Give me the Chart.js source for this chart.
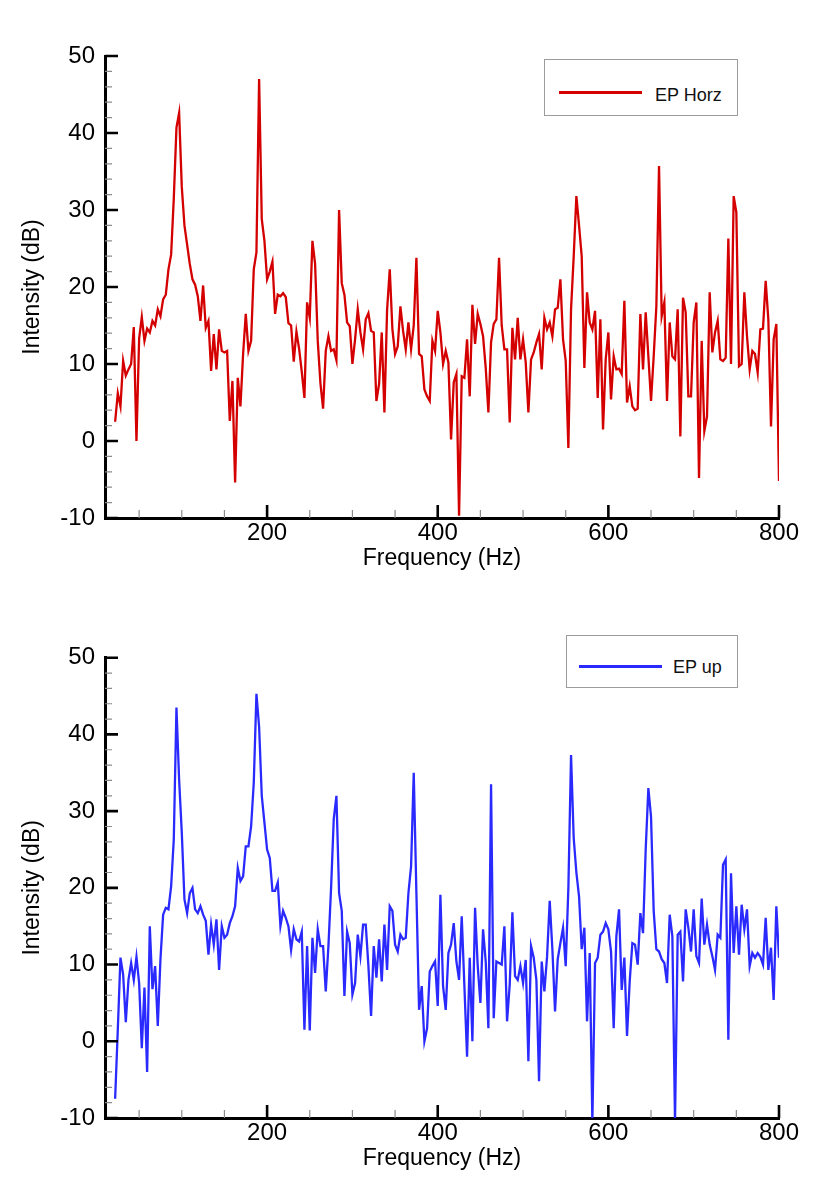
<!DOCTYPE html>
<html lang="en">
<head>
<meta charset="UTF-8">
<title>EP spectra</title>
<script src="https://cdn.jsdelivr.net/npm/chart.js"></script>
<style>
  body { margin: 0; background: #fff; font-family: "Liberation Sans", Arial, sans-serif; }
  .page { position: relative; width: 825px; height: 1185px; overflow: hidden; }
  .panel { position: absolute; left: 0; }
  .legend-box { position: absolute; border: 1.5px solid #9c9c9c; box-sizing: border-box; background: #fff; }
  .legend-line { position: absolute; height: 3px; }
  .legend-label { position: absolute; font-size: 18px; line-height: 20px; color: #111; white-space: nowrap; }
</style>
</head>
<body>
<div class="page">
  <canvas id="horzChart" class="panel" style="top:0" width="825" height="592"></canvas>
  <canvas id="upChart" class="panel" style="top:592px" width="825" height="593"></canvas>

  <div class="legend-box" style="left:544px; top:59px; width:194px; height:57px;"></div>
  <div class="legend-line" style="left:559px; top:90.5px; width:83px; background:#d40000;"></div>
  <div class="legend-label" style="left:655px; top:84.5px;">EP Horz</div>

  <div class="legend-box" style="left:566px; top:635px; width:172px; height:53px;"></div>
  <div class="legend-line" style="left:579px; top:664.5px; width:83px; background:#2a2aff;"></div>
  <div class="legend-label" style="left:673px; top:657px;">EP up</div>
</div>

<script>
// spectrum values (dB), one per frequency bin
const EP_HORZ = [
  2.5, 6.2, 4.5, 10.4, 8.5, 9.3, 10.0, 14.8, 0, 13.3,
  16.1, 13, 14.6, 14.1, 15.6, 15, 17.1, 16.2, 18.4, 19,
  22.3, 24.2, 31.5, 40.7, 42.6, 33, 28, 25.5, 23, 21,
  20.3, 18.8, 15.6, 20.2, 14.7, 15.6, 9.1, 13.9, 9.3, 14.5,
  11.7, 11.5, 11.7, 2.6, 7.8, -5.4, 8.2, 4.5, 11.3, 16.5,
  11.7, 13, 22.3, 24.5, 47, 28.8, 26, 21, 22, 23.3,
  16.5, 19, 18.8, 19.2, 18.7, 15.3, 15, 10.3, 14.2, 12,
  9, 5.6, 18, 16, 26, 23, 13, 7.5, 4.2, 11.7,
  13.6, 11.7, 11.9, 10.5, 30, 20.5, 19, 15.4, 14.9, 10,
  13.2, 17.1, 14.1, 11.9, 15.8, 16.6, 14.3, 14.1, 5.2, 7.4,
  14.1, 3.7, 17, 22.3, 14.5, 11.3, 12.3, 17.5, 14.3, 11.9,
  15.4, 11.9, 15, 23.8, 11.3, 11, 6.7, 5.8, 5.2, 13,
  11.7, 16.9, 14.1, 10, 11.7, 10.2, 0.2, 7.6, 8.7, -9.7,
  8.4, 8.2, 13.2, 5.8, 17.7, 12.6, 16.5, 15.2, 13.6, 9.5,
  3.7, 12.8, 15.2, 15.8, 23.8, 15, 11.9, 11.9, 2.4, 14.7,
  10.6, 16, 10.6, 13.2, 10.2, 3.7, 10.6, 11.5, 12.8, 13.9,
  9.3, 16, 14.5, 15.4, 13.6, 17.1, 17.3, 21, 13.2, 10.4,
  -0.9, 17.1, 24, 31.8, 28, 24, 9.5, 19.3, 15.4, 14.5,
  16.9, 5.6, 15.8, 1.5, 10.6, 14.1, 5.4, 11, 9.3, 9.4,
  8.7, 18.2, 5, 7.1, 4.5, 4, 4.2, 16.5, 9.3, 16.7,
  11, 5.2, 11, 17.5, 35.7, 16.2, 18, 5.2, 15.4, 11,
  10.6, 17.1, 0.6, 18.6, 16.7, 5.8, 5.8, 15.4, 18, -4.8,
  13, 1.3, 3.2, 19.3, 11.5, 14.1, 15.6, 10.6, 10.4, 10.8,
  26.3, 10, 31.8, 29.7, 9.7, 10, 19.3, 13.6, 9.3, 11.7,
  11.3, 8.9, 14.5, 14.6, 20.8, 15.8, 1.9, 13.2, 15.2, -5.2
];

const EP_UP = [
  -7.5, 1.5, 10.9, 8.7, 2.5, 8, 10.2, 8, 11, 7.6,
  -0.9, 7, -4, 15, 6.8, 9.8, 2, 10.7, 16.5, 17.4,
  17.2, 20.2, 26.3, 43.5, 34.1, 27.2, 18.5, 16.7, 19.3, 20,
  17.2, 16.7, 17.6, 16.5, 15.7, 11.3, 15.2, 12.6, 15.9, 9.3,
  15, 13.5, 13.9, 15.4, 16.3, 17.6, 22.6, 20.9, 21.5, 25.4,
  25.4, 28, 33.7, 45.3, 41, 32, 28.5, 25, 23.9, 19.6,
  19.6, 20.7, 15, 17, 16.1, 15, 11.9, 14.6, 13.3, 13,
  14.3, 1.5, 12.4, 1.4, 13.5, 8.9, 14.6, 12.4, 12.4, 6.5,
  12.4, 20, 29, 32, 19.3, 17, 5.9, 14.3, 12.8, 6.1,
  7.6, 13.9, 11.1, 15.2, 15.2, 9.8, 3.3, 12.4, 8.3, 13.3,
  7.8, 15.2, 9.3, 17.6, 17, 12.6, 11.7, 13.9, 13.3, 13.5,
  19.3, 22.8, 35, 19.3, 4.1, 7.2, 0, 1.7, 9.1, 9.8,
  10.4, 4.6, 19.1, 7.2, 4.1, 11.5, 12.6, 15.4, 10.4, 8,
  16.3, 7.2, -2, 10.9, 0, 17.4, 9.8, 5, 14.6, 10.4,
  1.7, 33.5, 3, 10.4, 10.2, 10, 15, 2.6, 7.4, 16.8,
  8.5, 8, 9.8, 7.6, 10.6, -2.6, 12.4, 10.9, 8, -5.2,
  10.4, 6.5, 11, 18.3, 12, 3.9, 10.7, 12.8, 14.8, 9.8,
  20, 37.3, 26.5, 22, 18.9, 12, 14.8, 2.6, 11.5, -10.5,
  10.2, 10.9, 13.9, 14.3, 15.4, 14.6, 11.7, 1.7, 13.7, 17.2,
  6.7, 10.9, 0.7, 7.8, 12.8, 12.6, 10, 16.7, 14.1, 25,
  33, 29.3, 17, 12, 11.7, 10.7, 10.2, 7.6, 16.5, 13.7,
  -10.5, 13.9, 14.3, 7.8, 17.2, 14.8, 11.7, 17.2, 11.1, 10.2,
  18.6, 12.6, 15.2, 12.6, 11.1, 9.3, 13.9, 13.5, 23, 23.7,
  0.2, 21.9, 11.5, 17.6, 11.3, 17.8, 14.6, 17.2, 9.8, 11.5,
  10.9, 11.5, 11, 10, 16.1, 9.3, 12.2, 5.4, 17.6, 10.9
];

// frequency bins of the spectrum (Hz)
const BIN_FIRST = 21.875;
const BIN_WIDTH = 3.125;
const FREQ = EP_HORZ.map((_, i) => BIN_FIRST + BIN_WIDTH * i);

const X_RANGE = [10, 800];
const Y_RANGE = [-10, 50];
const X_TICKS = [200, 400, 600, 800];
const Y_TICKS = [-10, 0, 10, 20, 30, 40, 50];
const X_MINOR = [50, 100, 150, 250, 300, 350, 450, 500, 550, 650, 700, 750];
const Y_MINOR = [-8, -6, -4, -2, 2, 4, 6, 8, 12, 14, 16, 18, 22, 24, 26, 28,
                 32, 34, 36, 38, 42, 44, 46, 48];

const FONT = '"Liberation Sans", Arial, sans-serif';

// tecplot style ticks pointing into the plot
const inwardTicks = {
  id: 'inwardTicks',
  afterDatasetsDraw(chart) {
    const { ctx, chartArea } = chart;
    const xs = chart.scales.x, ys = chart.scales.y;
    const left = chartArea.left, bottom = chartArea.bottom;
    ctx.save();
    ctx.strokeStyle = '#8c8c8c';
    ctx.lineWidth = 1.2;
    ctx.beginPath();
    X_MINOR.forEach(v => {
      const px = xs.getPixelForValue(v);
      ctx.moveTo(px, bottom);
      ctx.lineTo(px, bottom - 8);
    });
    Y_MINOR.forEach(v => {
      const py = ys.getPixelForValue(v);
      ctx.moveTo(left, py);
      ctx.lineTo(left + 7, py);
    });
    ctx.stroke();

    ctx.strokeStyle = '#000';
    ctx.lineWidth = 2.6;
    ctx.beginPath();
    X_TICKS.forEach(v => {
      const px = xs.getPixelForValue(v);
      ctx.moveTo(px, bottom);
      ctx.lineTo(px, bottom - 13);
    });
    Y_TICKS.forEach(v => {
      const py = ys.getPixelForValue(v);
      ctx.moveTo(left, py);
      ctx.lineTo(left + 13, py);
    });
    ctx.stroke();
    ctx.restore();
  }
};

function makeSpectrum(canvasId, values, color, pad) {
  const ctx = document.getElementById(canvasId).getContext('2d');
  return new Chart(ctx, {
    type: 'line',
    data: {
      datasets: [{
        data: FREQ.map((f, i) => ({ x: f, y: values[i] })),
        borderColor: color,
        borderWidth: 2.3,
        pointRadius: 0,
        tension: 0,
        fill: false
      }]
    },
    options: {
      responsive: false,
      animation: false,
      devicePixelRatio: 1,
      layout: { padding: pad },
      plugins: { legend: { display: false }, tooltip: { enabled: false } },
      scales: {
        x: {
          type: 'linear',
          min: X_RANGE[0],
          max: X_RANGE[1],
          afterBuildTicks: s => { s.ticks = X_TICKS.map(v => ({ value: v })); },
          afterFit: s => { s.height = 54.5; },
          grid: { display: false, drawTicks: false },
          border: { display: true, color: '#000', width: 3 },
          ticks: { color: '#000', padding: 1, maxRotation: 0, font: { family: FONT, size: 24 } },
          title: { display: true, text: 'Frequency (Hz)', color: '#000',
                   padding: { top: 0, bottom: 0 }, font: { family: FONT, size: 23 } }
        },
        y: {
          min: Y_RANGE[0],
          max: Y_RANGE[1],
          afterBuildTicks: s => { s.ticks = Y_TICKS.map(v => ({ value: v })); },
          afterFit: s => { s.width = 105; },
          grid: { display: false, drawTicks: false },
          border: { display: true, color: '#000', width: 3 },
          ticks: { color: '#000', padding: 10, font: { family: FONT, size: 24 } },
          title: { display: true, text: 'Intensity (dB)', color: '#000',
                   padding: { top: 19, bottom: 0 }, font: { family: FONT, size: 23 } }
        }
      }
    },
    plugins: [inwardTicks]
  });
}

makeSpectrum('horzChart', EP_HORZ, '#d40000', { left: 0, right: 46, top: 56, bottom: 19.5 });
makeSpectrum('upChart', EP_UP, '#2a2aff', { left: 0, right: 46, top: 65.7, bottom: 12.5 });
</script>
</body>
</html>
